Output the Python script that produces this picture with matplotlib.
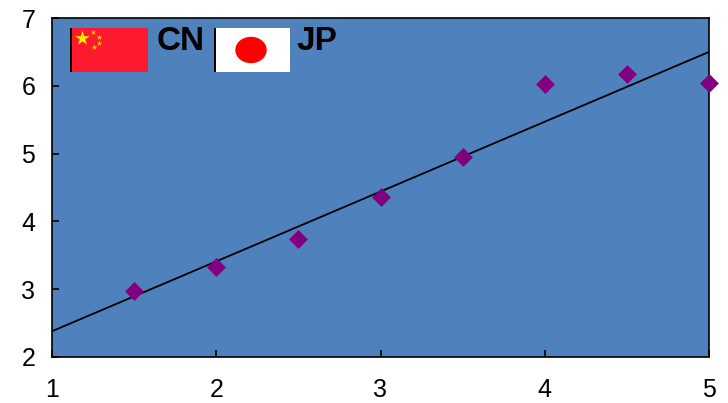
import matplotlib
matplotlib.use("Agg")
import matplotlib.pyplot as plt
from matplotlib.patches import Rectangle, Ellipse
import numpy as np

x_vals = [1.5, 2, 2.5, 3, 3.5, 4, 4.5, 5]
y_vals = [2.97, 3.33, 3.74, 4.36, 4.95, 6.02, 6.17, 6.04]
fit_x = [1, 5]
fit_y = [2.38, 6.5]
x_ticks = [1, 2, 3, 4, 5]
y_ticks = [2, 3, 4, 5, 6, 7]

plt.rcParams['font.family'] = ['Liberation Sans', 'DejaVu Sans']

W, H = 728, 403
fig = plt.figure(figsize=(W / 100, H / 100), dpi=100)
ax = fig.add_axes([52 / W, 1 - 357 / H, (709 - 52) / W, (357 - 18) / H])
ax.set_facecolor('#4f81bd')
ax.plot(fit_x, fit_y, color='black', lw=1.3, zorder=3)
ax.scatter(x_vals, y_vals, marker='D', s=92, color='#800080', linewidths=0, zorder=4, clip_on=False)
ax.set_xlim(1, 5)
ax.set_ylim(2, 7)
ax.set_xticks(x_ticks)
ax.set_yticks(y_ticks)
ax.tick_params(labelsize=18, length=5, width=1.2, direction='in')
ax.tick_params(axis='x', pad=15)
ax.tick_params(axis='y', pad=12)
for s in ax.spines.values():
    s.set_linewidth(1.2)


# flags are placed in pixels of the figure
def px(x, y, w, h):
    return [x / W, 1 - (y + h) / H, w / W, h / H]


def flag_axes(x, y, w, h):
    a = fig.add_axes(px(x, y, w, h), zorder=5)
    a.set_xlim(0, w)
    a.set_ylim(h, 0)
    a.axis('off')
    return a


cn = flag_axes(70, 28, 78, 44)
cn.add_patch(Rectangle((0, 0), 78, 44, color='#fe1a2e'))
cn.plot([0.5, 0.5], [0, 44], color='black', lw=1.4)
cn.scatter([12], [10], marker='*', s=120, color='#ffee00', linewidths=0)
cn.scatter([23, 29, 29, 24], [4, 9, 15, 19], marker='*', s=18, color='#ffcc00', linewidths=0)

jp = flag_axes(214, 28, 76, 44)
jp.add_patch(Rectangle((0, 0), 76, 44, color='white'))
jp.plot([0.5, 0.5], [0, 44], color='black', lw=1.4)
jp.add_patch(Ellipse((37, 22), 30, 25, color='#ff0000'))

fig.text(157 / W, 1 - 42 / H, 'CN', fontsize=24, fontweight='bold', va='center')
fig.text(296 / W, 1 - 41 / H, 'JP', fontsize=24, fontweight='bold', va='center')

fig.savefig('out.png', dpi=100)
